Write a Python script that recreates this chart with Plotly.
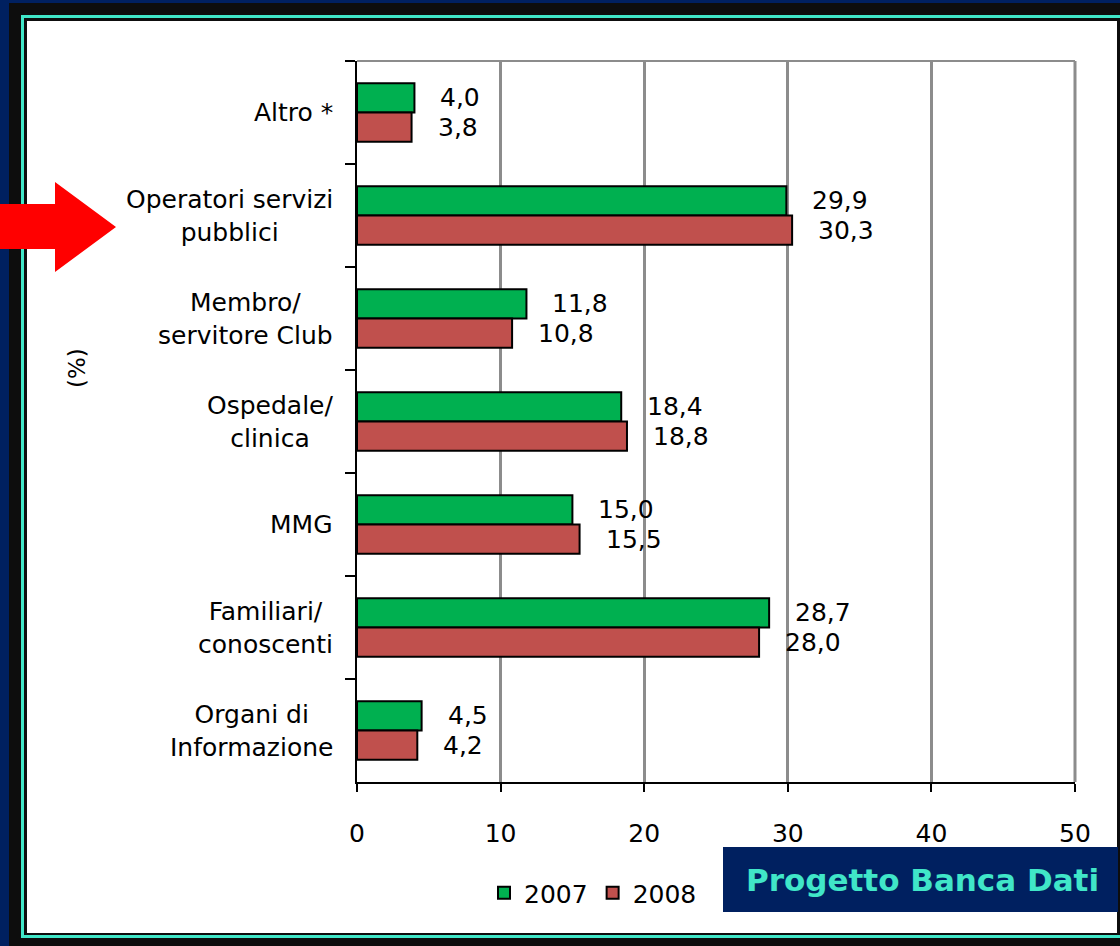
import plotly.graph_objects as go

# ---- data ----
categories = ["Altro *", "Operatori servizi<br>pubblici", "Membro/<br>servitore Club",
              "Ospedale/<br>clinica", "MMG", "Familiari/<br>conoscenti",
              "Organi di<br>Informazione"]
series_names = ["2007", "2008"]
values_2007 = [4.0, 29.9, 11.8, 18.4, 15.0, 28.7, 4.5]
values_2008 = [3.8, 30.3, 10.8, 18.8, 15.5, 28.0, 4.2]
x_ticks = [0, 10, 20, 30, 40, 50]

# ---- style ----
W, H = 1120, 946
L, R, T, B = 357, 45, 61, 164
PW, PH = W - L - R, H - T - B
FONT = "DejaVu Sans"
GREEN, RED = "#00B050", "#C0504D"
NAVY, TEAL = "#002060", "#40E6C8"
GRID = "#8C8C8C"


def px(x):
    return (x - L) / PW


def py(y):
    return (H - B - y) / PH


def fmt(v):
    return f"{v:.1f}".replace(".", ",")


fig = go.Figure()
for name, vals, col in [(series_names[0], values_2007, GREEN),
                        (series_names[1], values_2008, RED)]:
    fig.add_trace(go.Bar(
        name=name, x=vals, y=categories, orientation="h",
        marker=dict(color=col, line=dict(color="black", width=2)),
    ))

shapes = []
# frame background layers
for (x0, y0, x1, y1, col) in [(9, 3, 1120, 946, "#0D0D0D"),
                              (21, 15, 1120, 938, TEAL),
                              (24, 18, 1120, 935, "#0D0D0D"),
                              (27, 21, 1117, 933, "white")]:
    shapes.append(dict(type="rect", xref="paper", yref="paper",
                       x0=px(x0), x1=px(x1), y0=py(y0), y1=py(y1),
                       fillcolor=col, line=dict(width=0), layer="below"))
# top and right border of plot area
shapes.append(dict(type="line", xref="paper", yref="paper", x0=0, x1=1, y0=1, y1=1,
                   line=dict(color=GRID, width=2), layer="below"))
shapes.append(dict(type="line", xref="paper", yref="paper", x0=1, x1=1, y0=0, y1=1,
                   line=dict(color=GRID, width=3), layer="below"))
# red arrow
pts = [(0, 204), (55, 204), (55, 182), (116, 227), (55, 272), (55, 249), (0, 249)]
path = "M " + " L ".join(f"{px(a):.5f},{py(b):.5f}" for a, b in pts) + " Z"
shapes.append(dict(type="path", xref="paper", yref="paper", path=path,
                   fillcolor="#FF0000", line=dict(width=0), layer="above"))
# Progetto Banca Dati box
shapes.append(dict(type="rect", xref="paper", yref="paper",
                   x0=px(723), x1=px(1118), y0=py(912), y1=py(847),
                   fillcolor=NAVY, line=dict(width=0), layer="above"))

annotations = []
# category labels (centered lines, right-aligned block)
for c in categories:
    annotations.append(dict(xref="paper", yref="y", x=0, y=c, xanchor="right",
                            yanchor="middle", align="center", xshift=-22,
                            text=c, showarrow=False,
                            font=dict(family=FONT, size=25, color="black")))
# value labels
for i, c in enumerate(categories):
    for vals, ys in [(values_2007, 15), (values_2008, -15)]:
        annotations.append(dict(xref="x", yref="y", x=vals[i], y=c, xanchor="left",
                                yanchor="middle", xshift=24, yshift=ys,
                                text=fmt(vals[i]), showarrow=False,
                                font=dict(family=FONT, size=25, color="black")))
# y-axis title
annotations.append(dict(xref="paper", yref="paper", x=px(77), y=py(368),
                        text="(%)", textangle=-90, showarrow=False,
                        xanchor="center", yanchor="middle",
                        font=dict(family=FONT, size=23, color="black")))
# watermark text
annotations.append(dict(xref="paper", yref="paper", x=px(922), y=py(880),
                        text="<b>Progetto Banca Dati</b>", showarrow=False,
                        xanchor="center", yanchor="middle",
                        font=dict(family="DejaVu Sans", size=31, color=TEAL)))

fig.update_layout(
    width=W, height=H, margin=dict(l=L, r=R, t=T, b=B, pad=0),
    paper_bgcolor=NAVY, plot_bgcolor="white",
    barmode="group", bargap=0.43, bargroupgap=0,
    font=dict(family=FONT, size=25, color="black"),
    shapes=shapes, annotations=annotations,
    showlegend=True,
    legend=dict(orientation="h", x=px(484), y=py(893), xanchor="left",
                yanchor="middle", bgcolor="rgba(0,0,0,0)",
                font=dict(family=FONT, size=25, color="black"),
                traceorder="normal", itemsizing="constant"),
    xaxis=dict(range=[0, 50], tickvals=x_ticks, ticktext=[str(t) for t in x_ticks],
               showgrid=True, gridcolor=GRID, gridwidth=3, zeroline=False,
               showline=True, linecolor="black", linewidth=2,
               ticks="outside", ticklen=8, tickwidth=2, tickcolor="black",
               ticklabelstandoff=20,
               tickfont=dict(family=FONT, size=25, color="black"), fixedrange=True),
    yaxis=dict(autorange="reversed", categoryorder="array", categoryarray=categories,
               showticklabels=False, showgrid=False, zeroline=False,
               showline=True, linecolor="black", linewidth=2,
               ticks="outside", tickson="boundaries", ticklen=10, tickwidth=2,
               tickcolor="black", fixedrange=True),
)

fig.write_html("out.html", config={"displayModeBar": False},
               post_script="document.body.style.margin='0';document.body.style.overflow='hidden';")
